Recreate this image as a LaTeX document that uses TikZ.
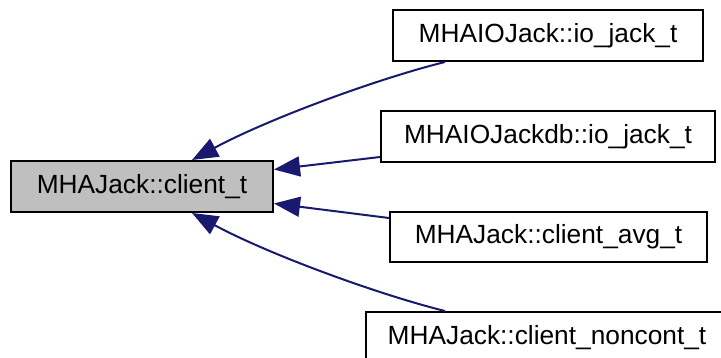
\documentclass[tikz,border=0pt]{standalone}
\usepackage{fontspec}
\setmainfont{Liberation Sans}
\usetikzlibrary{arrows.meta}
\definecolor{edgeblue}{RGB}{25,25,112}
\definecolor{mainfill}{RGB}{191,191,191}
\tikzset{
  cls/.style={draw=black, line width=2pt, fill=white, inner sep=0pt,
    font=\fontsize{26.3}{30}\selectfont, anchor=center},
  edge/.style={draw=edgeblue, line width=2pt,
    -{Triangle[length=26pt,width=20pt]}, edgeblue}
}
\begin{document}
\begin{tikzpicture}[x=1pt,y=-1pt]
\useasboundingbox (0,0) rectangle (721,358);
\clip (0,0) rectangle (721,358);
\fill[white] (0,0) rectangle (721,358);
\node[cls, fill=mainfill, minimum width=262pt, minimum height=51pt] (m) at (142,186.5) {MHAJack::client\_t};
\node[cls, minimum width=310pt, minimum height=51pt] (b1) at (548,35.5) {MHAIOJack::io\_jack\_t};
\node[cls, minimum width=334pt, minimum height=51pt] (b2) at (548,136.5) {MHAIOJackdb::io\_jack\_t};
\node[cls, minimum width=317pt, minimum height=50pt] (b3) at (548.5,237) {MHAJack::client\_avg\_t};
\node[cls, minimum width=362pt, minimum height=51pt] (b4) at (547,337.5) {MHAJack::client\_noncont\_t};
\draw[edge] ([xshift=-103pt]b1.south) .. controls (380,78) and (270,118) .. ([xshift=182pt]m.north west);
\draw[edge] ([yshift=-20.5pt]b2.west) -- ([yshift=17pt]m.east);
\draw[edge] ([yshift=19pt]b3.west) -- ([yshift=-17pt]m.east);
\draw[edge] ([xshift=-102pt]b4.north) .. controls (380,295) and (270,255) .. ([xshift=182pt]m.south west);
\end{tikzpicture}
\end{document}
